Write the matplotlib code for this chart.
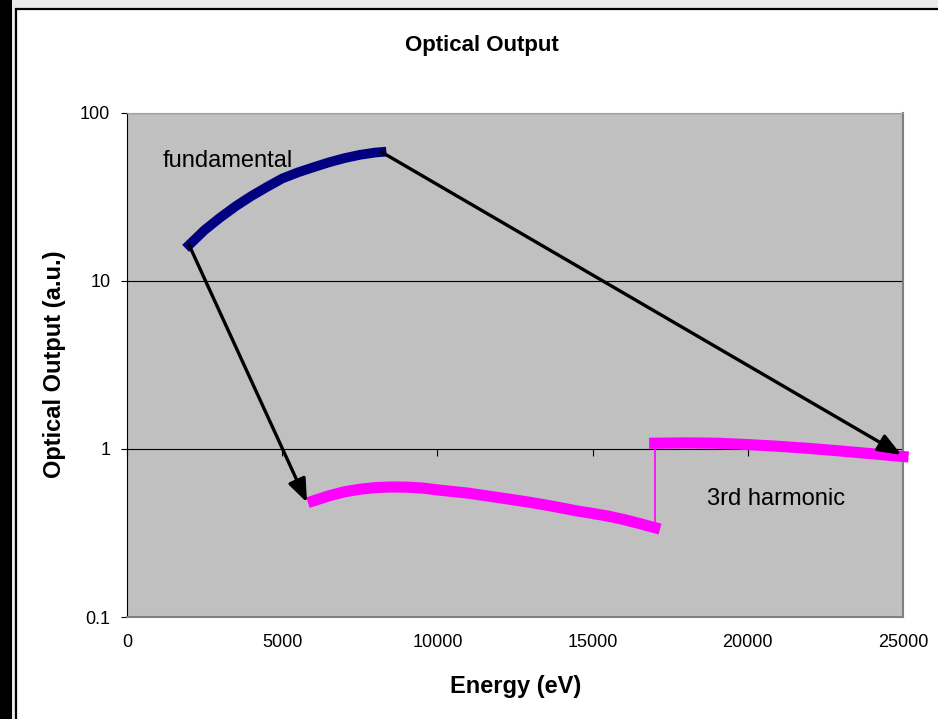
import matplotlib.pyplot as plt
from matplotlib.patches import Rectangle
from matplotlib.ticker import NullLocator

plt.rcParams['font.family'] = ['Liberation Sans', 'DejaVu Sans']

# fundamental line output vs photon energy
energy_fund = [2000, 2500, 3000, 3500, 4000, 4500, 5000, 5500, 6000,
               6500, 7000, 7500, 8000, 8200]
output_fund = [16.3, 20.0, 23.7, 27.7, 31.8, 36.0, 40.5, 44.0, 47.2,
               50.5, 53.5, 56.0, 57.8, 58.2]

# 3rd harmonic, lower branch
energy_h3_low = [6000, 6500, 7000, 7500, 8000, 8500, 9000, 9500, 10000,
                 10500, 11000, 11500, 12000, 12500, 13000, 13500, 14000,
                 14500, 15000, 15500, 16000, 16500, 17000]
output_h3_low = [0.49, 0.525, 0.555, 0.575, 0.588, 0.593, 0.592, 0.585, 0.57,
                 0.557, 0.545, 0.528, 0.512, 0.496, 0.48, 0.463, 0.445,
                 0.427, 0.413, 0.398, 0.38, 0.36, 0.34]

# 3rd harmonic, upper branch
energy_h3_high = [17000, 18000, 19000, 20000, 21000, 22000, 23000, 24000, 25000]
output_h3_high = [1.08, 1.085, 1.08, 1.06, 1.035, 1.005, 0.97, 0.935, 0.9]

# arrow targets
arrow_low_tip = (5800, 0.48)
arrow_high_tip = (24950, 0.92)

x_ticks = [0, 5000, 10000, 15000, 20000, 25000]
x_tick_labels = ['0', '5000', '10000', '15000', '20000', '25000']
y_ticks = [0.1, 1, 10, 100]
y_tick_labels = ['0.1', '1', '10', '100']

W, H = 938, 719
fig = plt.figure(figsize=(W / 100, H / 100), dpi=100)
fig.patch.set_facecolor('#EBEBEB')


def fx(px):
    return px / W


def fy(py):
    return 1 - py / H


# window frame around the chart, kept behind the axes
fig.add_artist(Rectangle((0, 0), fx(11.5), 1, transform=fig.transFigure,
                         facecolor='black', edgecolor='none', zorder=-5))
fig.add_artist(Rectangle((fx(16), -0.02), 1.05 - fx(16), fy(9) + 0.02,
                         transform=fig.transFigure, facecolor='white',
                         edgecolor='black', linewidth=1.6, zorder=-5))

ax = fig.add_axes([fx(127), fy(617), fx(903) - fx(127), fy(112.5) - fy(617)])
ax.set_facecolor('#C0C0C0')
ax.set_yscale('log')
ax.set_xlim(0, 25000)
ax.set_ylim(0.1, 100)

ax.plot(energy_fund, output_fund, color='#000080', lw=7,
        solid_capstyle='projecting', zorder=3)
ax.plot(energy_h3_low, output_h3_low, color='#FF00FF', lw=8,
        solid_capstyle='projecting', zorder=3)
ax.plot(energy_h3_high, output_h3_high, color='#FF00FF', lw=8,
        solid_capstyle='projecting', zorder=3, clip_on=False)
ax.plot([energy_h3_low[-1], energy_h3_high[0]],
        [output_h3_low[-1], output_h3_high[0]],
        color='#FF00FF', lw=1.2, zorder=2.5)

arrow = dict(arrowstyle='-|>,head_length=1.4,head_width=0.55', mutation_scale=10,
             lw=2.4, color='black', shrinkA=0, shrinkB=0)
ax.annotate('', xy=arrow_low_tip, xytext=(energy_fund[0], output_fund[0]),
            arrowprops=arrow, annotation_clip=False, zorder=4)
ax.annotate('', xy=arrow_high_tip, xytext=(energy_fund[-1], output_fund[-1]),
            arrowprops=arrow, annotation_clip=False, zorder=4)

ax.text(1160, 47.4, 'fundamental', fontsize=17, va='baseline')
ax.text(18690, 0.463, '3rd harmonic', fontsize=17, va='baseline')

# grid and axes
ax.set_axisbelow(True)
ax.yaxis.grid(True, which='major', color='black', lw=0.8)
ax.set_xticks(x_ticks)
ax.set_xticklabels(x_tick_labels)
ax.set_yticks(y_ticks)
ax.set_yticklabels(y_tick_labels)
ax.yaxis.set_minor_locator(NullLocator())
ax.tick_params(axis='x', length=0, pad=12.5, labelsize=13)
ax.tick_params(axis='y', length=4.3, width=0.8, pad=7.7, labelsize=13)

# the category axis crosses at 1, tick marks drawn there
ax.plot(x_ticks, [1] * len(x_ticks), linestyle='none', marker=3,
        markersize=5, mew=0.8, color='black', clip_on=False, zorder=2)

ax.spines['left'].set_color('black')
ax.spines['left'].set_linewidth(0.8)
ax.spines['top'].set_color('#A0A0A0')
ax.spines['top'].set_linewidth(0.8)
for side in ('right', 'bottom'):
    ax.spines[side].set_color('#808080')
    ax.spines[side].set_linewidth(1.5)

fig.text(fx(482), fy(51), 'Optical Output', ha='center', va='baseline',
         fontsize=16, fontweight='bold')
fig.text(fx(516), fy(693), 'Energy (eV)', ha='center', va='baseline',
         fontsize=17, fontweight='bold')
fig.text(fx(54), fy(364), 'Optical Output (a.u.)', rotation=90,
         ha='center', va='center', fontsize=17, fontweight='bold')

fig.savefig('out.png', dpi=100, facecolor=fig.get_facecolor())
